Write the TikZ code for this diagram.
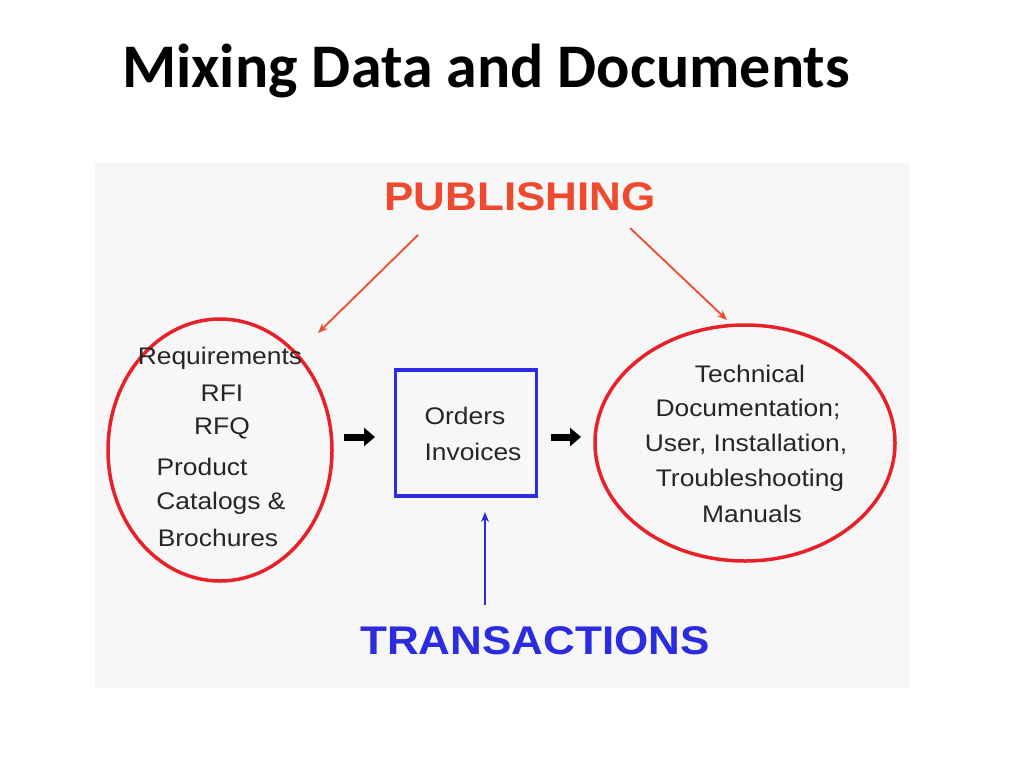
\documentclass[tikz,border=0pt]{standalone}
\usepackage{fontspec}
\setmainfont{Liberation Sans}
\newfontfamily\titlefont{Carlito}
\usetikzlibrary{arrows.meta,shapes.geometric}
\definecolor{pubred}{HTML}{EE4A30}
\definecolor{ellred}{HTML}{E8202A}
\definecolor{tblue}{HTML}{2B2BE0}
\tikzset{
  lbl/.style={font=\fontsize{24}{28}\selectfont, text=black!85, inner sep=0pt, xscale=1.1},
  big/.style={font=\bfseries\fontsize{40}{44}\selectfont, xscale=1.1},
  thinarrow/.style={-{Stealth[length=10pt,width=8pt]}, line width=1.8pt},
  blockarrow/.style={-{Triangle[length=11pt,width=18pt]}, line width=7pt}
}
\begin{document}
\begin{tikzpicture}[x=1pt,y=-1pt]
\useasboundingbox (0,0) rectangle (1024,768);
\fill[white] (0,0) rectangle (1024,768);
\fill[black!3] (95,163) rectangle (910,688);
\node[font=\titlefont\bfseries\fontsize{62}{66}\selectfont, anchor=base] (title) at (486,87) {Mixing Data and Documents};
\node[big, text=pubred] (pub) at (520,197) {PUBLISHING};
\node[big, text=tblue] (trans) at (535,641) {TRANSACTIONS};
\node[draw=ellred, line width=3.5pt, ellipse, minimum width=224pt, minimum height=262pt, inner sep=0pt] (left) at (220,450) {};
\node[draw=ellred, line width=3.5pt, ellipse, minimum width=300pt, minimum height=236pt, inner sep=0pt] (right) at (745,443) {};
\node[draw=tblue, line width=3.5pt, minimum width=141pt, minimum height=126pt] (box) at (466,433) {};
\node[lbl] at (220,358) {Requirements};
\node[lbl] at (222,393) {RFI};
\node[lbl] at (222,428) {RFQ};
\node[lbl] at (202,467) {Product};
\node[lbl] at (221,503) {Catalogs \&};
\node[lbl] at (218,538) {Brochures};
\node[lbl] at (465,416) {Orders};
\node[lbl] at (473,452) {Invoices};
\node[lbl] at (750,374) {Technical};
\node[lbl] at (748,409) {Documentation;};
\node[lbl] at (746,444) {User, Installation,};
\node[lbl] at (750,480) {Troubleshooting};
\node[lbl] at (752,514) {Manuals};
\coordinate (p1) at (418,235);
\coordinate (p1e) at (318,333);
\coordinate (p2) at (630,228);
\coordinate (p2e) at (727,320);
\draw[thinarrow, pubred] (p1) -- (p1e);
\draw[thinarrow, pubred] (p2) -- (p2e);
\coordinate (t1) at (485,605);
\coordinate (t1e) at (485,512);
\draw[thinarrow, tblue] (t1) -- (t1e);
\coordinate (a1) at (344,437);
\coordinate (a1e) at (375,437);
\coordinate (a2) at (551,437);
\coordinate (a2e) at (581,437);
\draw[blockarrow] (a1) -- (a1e);
\draw[blockarrow] (a2) -- (a2e);
\end{tikzpicture}
\end{document}
